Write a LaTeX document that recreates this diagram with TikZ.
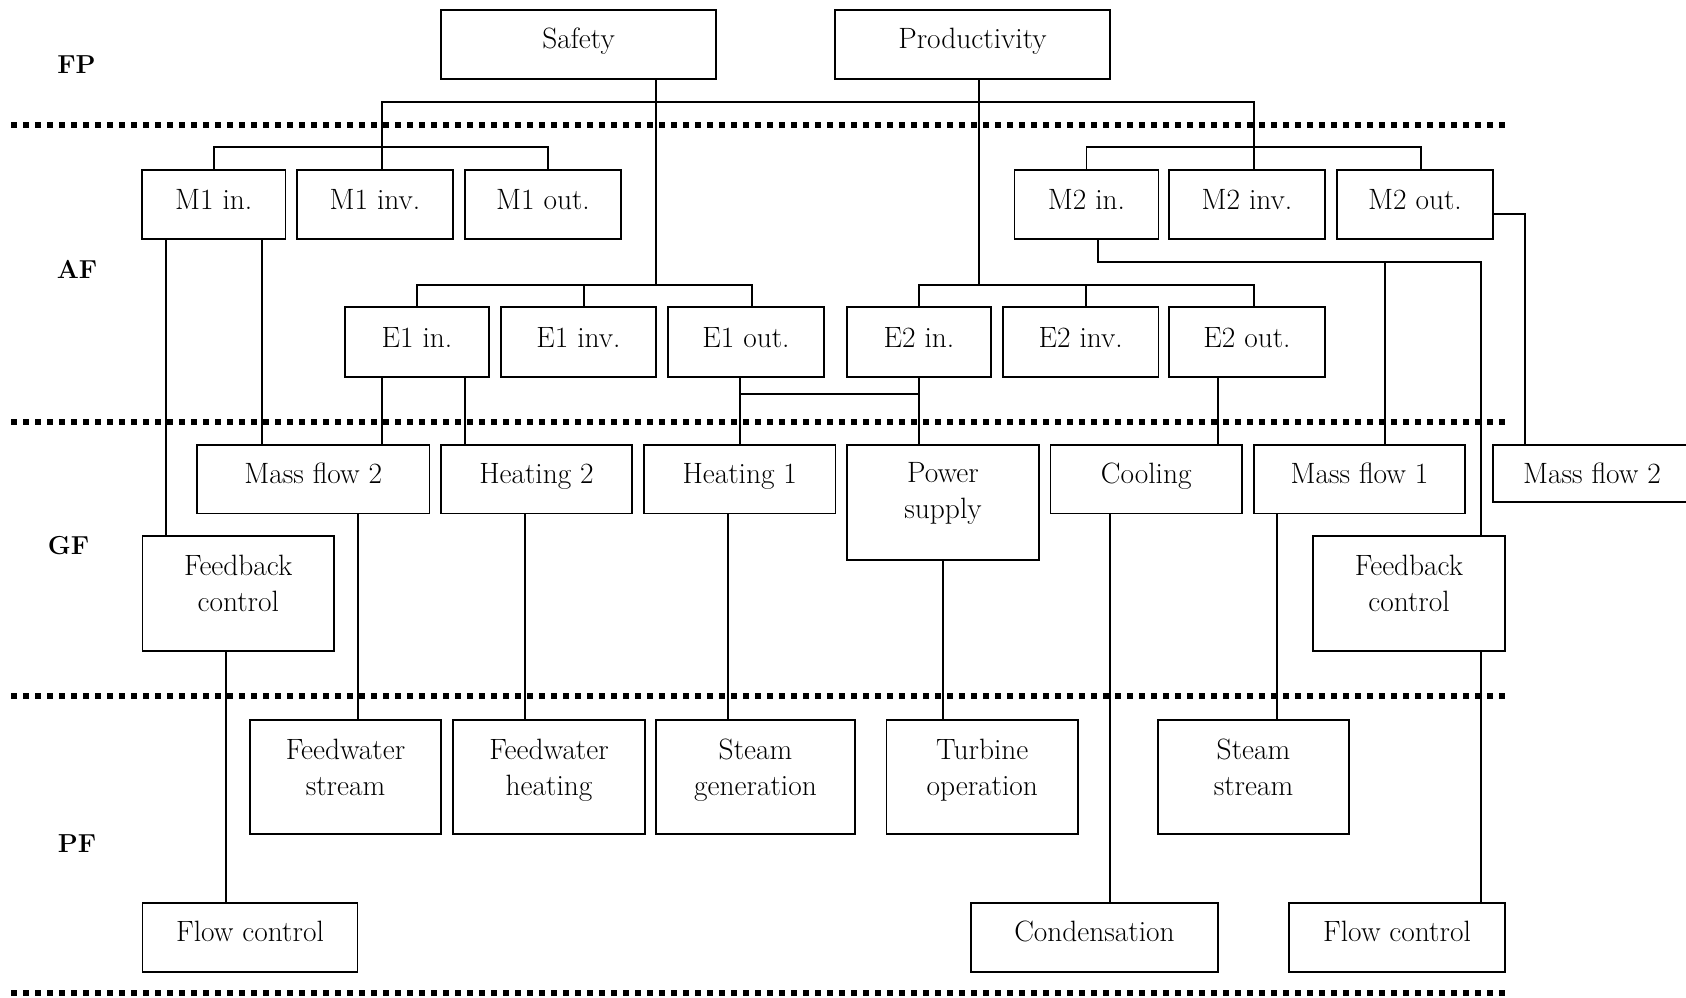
\documentclass[tikz,border=0pt]{standalone}
\usetikzlibrary{calc}
\newcommand\mkbox[5]{\node[box, minimum width={(#4)-(#2)}, minimum height={(#5)-(#3)}] (#1) at ({((#2)+(#4))/2},{((#3)+(#5))/2}) {};}
\newcommand\mktxt[3]{\node[txt, anchor=base] (#1-t) at (#1.center |- #2) {#3};}
\newcommand\mktwo[3]{\node[txt, anchor=north] (#1-t) at (#1.center |- #2) {#3};}
\begin{document}
\begin{tikzpicture}[x=1pt,y=-1pt,
  box/.style={draw, line width=1.8pt, inner sep=0pt},
  txt/.style={font=\fontsize{29.4}{36}\selectfont, inner sep=0pt, align=center},
  lvl/.style={font=\fontsize{26}{30}\selectfont\bfseries, inner sep=0pt, anchor=base},
  conn/.style={line width=1.5pt},
  sep/.style={line width=6pt, dash pattern=on 6pt off 6pt}]
\clip (0,0) rectangle (1686,997);
% separators
\draw[sep] (11,124.7) -- (1505,124.7);
\draw[sep] (11,422) -- (1505,422);
\draw[sep] (11,696.3) -- (1505,696.3);
\draw[sep] (11,992.5) -- (1505,992.5);
% level labels
\node[lvl] (fp) at (76.5,73) {FP};
\node[lvl] (af) at (77,278) {AF};
\node[lvl] (gf) at (68.5,554) {GF};
\node[lvl] (pf) at (77,852) {PF};
% boxes
\mkbox{safety}{441}{10}{716}{79}
\mkbox{prod}{835}{10}{1110}{79}
\mkbox{m1in}{142}{170}{285.5}{239}
\mkbox{m1inv}{297}{170}{453}{239}
\mkbox{m1out}{465}{170}{621}{239}
\mkbox{m2in}{1014.5}{170}{1158.5}{239}
\mkbox{m2inv}{1169}{170}{1325}{239}
\mkbox{m2out}{1337}{170}{1493}{239}
\mkbox{e1in}{345}{307}{489}{377}
\mkbox{e1inv}{501}{307}{656}{377}
\mkbox{e1out}{668}{307}{824}{377}
\mkbox{e2in}{847}{307}{991}{377}
\mkbox{e2inv}{1003}{307}{1158.5}{377}
\mkbox{e2out}{1169}{307}{1325}{377}
\mkbox{mfa}{197}{445}{429.5}{513.5}
\mkbox{heata}{441}{445}{632}{513.5}
\mkbox{heatb}{644}{445}{835.5}{513.5}
\mkbox{power}{847}{445}{1039}{560}
\mkbox{cool}{1050.5}{445}{1242}{513.5}
\mkbox{mfb}{1254}{445}{1465}{513.5}
\mkbox{mfc}{1493}{445}{1691}{502}
\mkbox{fba}{142.5}{536}{334}{651}
\mkbox{fbb}{1313}{536}{1505}{651}
\mkbox{fws}{250}{720}{441}{834}
\mkbox{fwh}{453}{720}{645}{834}
\mkbox{sgen}{656}{720}{855}{834}
\mkbox{turb}{886.5}{720}{1078}{834}
\mkbox{sst}{1158}{720}{1349}{834}
\mkbox{fca}{142.5}{903}{357.5}{972}
\mkbox{cond}{971}{903}{1218}{972}
\mkbox{fcb}{1289}{903}{1505}{972}
% text reference rows
\coordinate (bFP) at (0,48);
\coordinate (bA1) at (0,209);
\coordinate (bA2) at (0,347);
\coordinate (bG) at (0,483);
\coordinate (tG) at (0,462.7);
\coordinate (tFB) at (0,554.7);
\coordinate (tPF) at (0,738.7);
\coordinate (bB) at (0,941);
% texts
\mktxt{safety}{bFP}{Safety}
\mktxt{prod}{bFP}{Productivity}
\mktxt{m1in}{bA1}{M1 in.}
\mktxt{m1inv}{bA1}{M1 inv.}
\mktxt{m1out}{bA1}{M1 out.}
\mktxt{m2in}{bA1}{M2 in.}
\mktxt{m2inv}{bA1}{M2 inv.}
\mktxt{m2out}{bA1}{M2 out.}
\mktxt{e1in}{bA2}{E1 in.}
\mktxt{e1inv}{bA2}{E1 inv.}
\mktxt{e1out}{bA2}{E1 out.}
\mktxt{e2in}{bA2}{E2 in.}
\mktxt{e2inv}{bA2}{E2 inv.}
\mktxt{e2out}{bA2}{E2 out.}
\mktxt{mfa}{bG}{Mass flow 2}
\mktxt{heata}{bG}{Heating 2}
\mktxt{heatb}{bG}{Heating 1}
\mktwo{power}{tG}{Power\\supply}
\mktxt{cool}{bG}{Cooling}
\mktxt{mfb}{bG}{Mass flow 1}
\mktxt{mfc}{bG}{Mass flow 2}
\mktwo{fba}{tFB}{Feedback\\control}
\mktwo{fbb}{tFB}{Feedback\\control}
\mktwo{fws}{tPF}{Feedwater\\stream}
\mktwo{fwh}{tPF}{Feedwater\\heating}
\mktwo{sgen}{tPF}{Steam\\generation}
\mktwo{turb}{tPF}{Turbine\\operation}
\mktwo{sst}{tPF}{Steam\\stream}
\mktxt{fca}{bB}{Flow control}
\mktxt{cond}{bB}{Condensation}
\mktxt{fcb}{bB}{Flow control}
% connector guide coordinates
\coordinate (busF) at (0,102);
\coordinate (busM) at (0,147);
\coordinate (busE) at (0,285);
\coordinate (hl) at (0,394);
\coordinate (busMb) at (0,262);
\coordinate (yMo) at (0,214);
\foreach \xv in {166,226,262,358,382,465,525,548,584,656,728,740,752,919,979,1086,1098,1110,1218,1254,1277,1385,1421,1481,1525}
  {\coordinate (x\xv) at (\xv,0);}
% upper hierarchy
\draw[conn] (x382 |- m1inv.north) -- (x382 |- busF) -- (x1254 |- busF) -- (x1254 |- m2inv.north);
\draw[conn] (m1in.north) |- (x548 |- busM) -- (x548 |- m1out.north);
\draw[conn] (m2in.north) |- (x1421 |- busM) -- (x1421 |- m2out.north);
\draw[conn] (x656 |- safety.south) -- (x656 |- busE);
\draw[conn] (x979 |- prod.south) -- (x979 |- busE);
\draw[conn] (e1in.north) |- (x752 |- busE) -- (x752 |- e1out.north);
\draw[conn] (x584 |- busE) -- (x584 |- e1inv.north);
\draw[conn] (e2in.north) |- (x1254 |- busE) -- (x1254 |- e2out.north);
\draw[conn] (x1086 |- busE) -- (x1086 |- e2inv.north);
% AF to GF
\draw[conn] (x166 |- m1in.south) -- (x166 |- fba.north);
\draw[conn] (x262 |- m1in.south) -- (x262 |- mfa.north);
\draw[conn] (x382 |- e1in.south) -- (x382 |- mfa.north);
\draw[conn] (x465 |- e1in.south) -- (x465 |- heata.north);
\draw[conn] (x740 |- e1out.south) -- (x740 |- heatb.north);
\draw[conn] (x919 |- e2in.south) -- (x919 |- power.north);
\draw[conn] (x740 |- hl) -- (x919 |- hl);
\draw[conn] (x1218 |- e2out.south) -- (x1218 |- cool.north);
\draw[conn] (x1098 |- m2in.south) |- (x1481 |- busMb) -- (x1481 |- fbb.north);
\draw[conn] (x1385 |- busMb) -- (x1385 |- mfb.north);
\draw[conn] (yMo -| m2out.east) -| (x1525 |- mfc.north);
% GF to PF
\draw[conn] (x358 |- mfa.south) -- (x358 |- fws.north);
\draw[conn] (x525 |- heata.south) -- (x525 |- fwh.north);
\draw[conn] (x728 |- heatb.south) -- (x728 |- sgen.north);
\draw[conn] (power.south) -- (power.south |- turb.north);
\draw[conn] (x1110 |- cool.south) -- (x1110 |- cond.north);
\draw[conn] (x1277 |- mfb.south) -- (x1277 |- sst.north);
\draw[conn] (x226 |- fba.south) -- (x226 |- fca.north);
\draw[conn] (x1481 |- fbb.south) -- (x1481 |- fcb.north);
\end{tikzpicture}
\end{document}
